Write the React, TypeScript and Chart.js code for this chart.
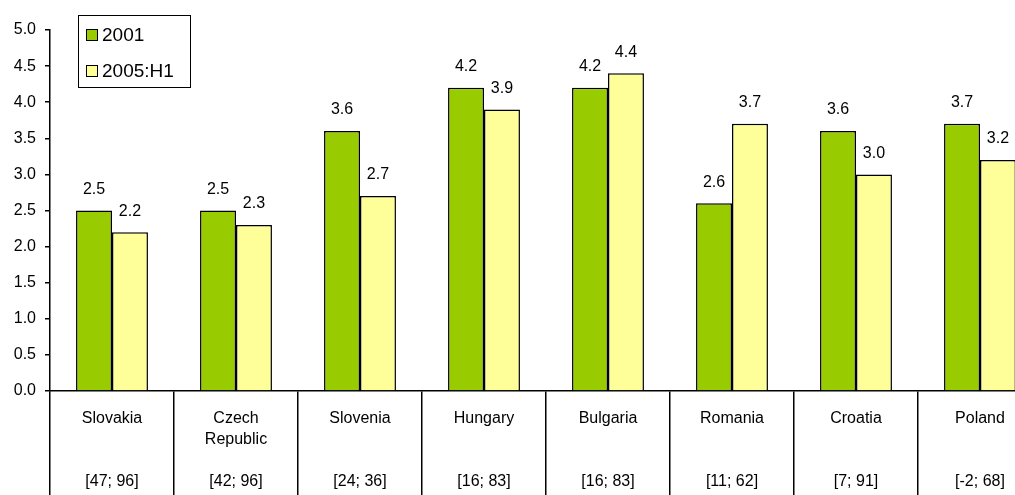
import React, { useEffect, useRef } from "react";
import { Chart, registerables } from "chart.js";

Chart.register(...registerables);

const countries: string[][] = [
  ["Slovakia"],
  ["Czech", "Republic"],
  ["Slovenia"],
  ["Hungary"],
  ["Bulgaria"],
  ["Romania"],
  ["Croatia"],
  ["Poland"],
];
const ranges = ["[47; 96]", "[42; 96]", "[24; 36]", "[16; 83]", "[16; 83]", "[11; 62]", "[7; 91]", "[-2; 68]"];
const series2001 = [2.5, 2.5, 3.6, 4.2, 4.2, 2.6, 3.6, 3.7];
const series2005H1 = [2.2, 2.3, 2.7, 3.9, 4.4, 3.7, 3.0, 3.2];
const seriesNames = ["2001", "2005:H1"];
const yTicks = { min: 0, max: 5, step: 0.5 };

const FONT = '"Liberation Sans", Arial, sans-serif';

const valueLabels = {
  id: "valueLabels",
  afterDatasetsDraw(chart: any) {
    const ctx = chart.ctx;
    ctx.save();
    ctx.font = `16px ${FONT}`;
    ctx.fillStyle = "#000";
    ctx.textAlign = "center";
    ctx.textBaseline = "middle";
    chart.data.datasets.forEach((ds: any, i: number) => {
      const meta = chart.getDatasetMeta(i);
      meta.data.forEach((bar: any, j: number) => {
        const v = ds.data[j] as number;
        ctx.fillText(v.toFixed(1), bar.x, bar.y - 21);
      });
    });
    ctx.restore();
  },
};

const boxLegend = {
  id: "boxLegend",
  afterDraw(chart: any) {
    const ctx = chart.ctx;
    const left = chart.chartArea.left + 28;
    const top = 15;
    ctx.save();
    ctx.fillStyle = "#fff";
    ctx.fillRect(left, top, 112, 72);
    ctx.strokeStyle = "#000";
    ctx.lineWidth = 1;
    ctx.strokeRect(left + 0.5, top + 0.5, 112, 72);
    ctx.font = `19px ${FONT}`;
    ctx.textBaseline = "middle";
    ctx.textAlign = "left";
    chart.data.datasets.forEach((ds: any, i: number) => {
      const cy = top + 20 + i * 36;
      ctx.fillStyle = ds.backgroundColor;
      ctx.fillRect(left + 8, cy - 6, 11, 11);
      ctx.strokeStyle = "#000";
      ctx.strokeRect(left + 8.5, cy - 5.5, 11, 11);
      ctx.fillStyle = "#000";
      ctx.fillText(ds.label, left + 24, cy + 1);
    });
    ctx.restore();
  },
};

export default function App() {
  const ref = useRef<HTMLCanvasElement | null>(null);

  useEffect(() => {
    if (!ref.current) return;
    const labels = countries.map((c, i) => {
      const lines = [...c];
      while (lines.length < 3) lines.push("");
      lines.push(ranges[i]);
      return lines;
    });
    const chart = new Chart(ref.current, {
      type: "bar",
      data: {
        labels,
        datasets: [
          {
            label: seriesNames[0],
            data: series2001,
            backgroundColor: "#99CC00",
            borderColor: "#000",
            borderWidth: 1.5,
            categoryPercentage: 0.58,
            barPercentage: 1,
          },
          {
            label: seriesNames[1],
            data: series2005H1,
            backgroundColor: "#FFFF99",
            borderColor: "#000",
            borderWidth: 1.5,
            categoryPercentage: 0.58,
            barPercentage: 1,
          },
        ],
      },
      options: {
        responsive: false,
        animation: false,
        devicePixelRatio: 1,
        layout: { padding: { top: 30, right: 3, left: 0, bottom: 0 } },
        plugins: {
          legend: { display: false },
          tooltip: { enabled: false },
        },
        scales: {
          x: {
            grid: {
              offset: true,
              drawOnChartArea: false,
              drawTicks: true,
              tickLength: 130,
              color: "#000",
              lineWidth: 1.5,
            },
            border: { display: true, color: "#000", width: 1.5 },
            ticks: {
              padding: -113,
              color: "#000",
              font: { family: FONT, size: 16, lineHeight: "21px" as any },
              maxRotation: 0,
              autoSkip: false,
            },
            afterFit(scale: any) {
              scale.height = 104;
            },
          },
          y: {
            min: yTicks.min,
            max: yTicks.max,
            grid: {
              drawOnChartArea: false,
              drawTicks: true,
              tickLength: 5,
              color: "#000",
              lineWidth: 1.5,
            },
            border: { display: true, color: "#000", width: 1.5 },
            ticks: {
              stepSize: yTicks.step,
              padding: 9,
              color: "#000",
              font: { family: FONT, size: 16 },
              callback: (v: any) => Number(v).toFixed(1),
            },
            afterFit(scale: any) {
              scale.width = 50;
            },
          },
        },
      },
      plugins: [valueLabels, boxLegend],
    });
    return () => chart.destroy();
  }, []);

  return (
    <div
      style={{
        position: "fixed",
        left: 0,
        top: 0,
        width: 1015,
        height: 495,
        overflow: "hidden",
        background: "#fff",
      }}
    >
      <canvas ref={ref} width={1045} height={495} style={{ display: "block" }} />
    </div>
  );
}
